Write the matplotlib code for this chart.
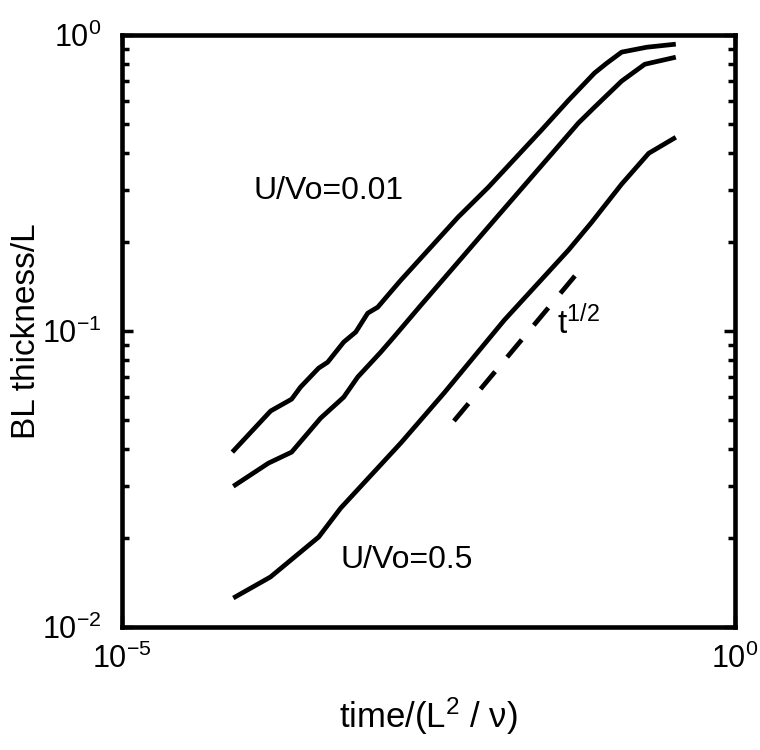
import matplotlib
matplotlib.use("Agg")
import matplotlib.pyplot as plt
from matplotlib.ticker import LogLocator, NullLocator, LogFormatterSciNotation, NullFormatter

plt.rcParams['font.family'] = ['Liberation Sans', 'DejaVu Sans']
plt.rcParams['mathtext.default'] = 'regular'

# ---- data ----
t_001 = [7.94e-5, 1.63e-4, 2.42e-4, 2.86e-4, 4.02e-4, 4.76e-4, 6.43e-4, 8.07e-4,
         1.01e-3, 1.22e-3, 1.48e-3, 1.88e-3, 5.51e-3, 9.70e-3, 0.0264, 0.0439,
         0.0714, 0.0897, 0.119, 0.1905, 0.329]
d_001 = [0.0390, 0.0537, 0.0589, 0.0647, 0.0750, 0.0785, 0.0918, 0.0993,
         0.115, 0.1205, 0.1324, 0.1486, 0.2427, 0.306, 0.478, 0.603,
         0.745, 0.804, 0.877, 0.911, 0.933]

t_mid = [8.09e-5, 1.567e-4, 2.42e-4, 4.17e-4, 6.43e-4, 8.38e-4, 1.29e-3, 1.65e-3,
         2.75e-3, 0.01086, 0.0528, 0.0714, 0.119, 0.1837, 0.329]
d_mid = [0.0299, 0.0358, 0.0390, 0.0508, 0.0598, 0.0700, 0.0849, 0.0955,
         0.1225, 0.237, 0.505, 0.571, 0.700, 0.798, 0.843]

t_05 = [8.09e-5, 1.626e-4, 4.02e-4, 6.08e-4, 1.884e-3, 4.24e-3, 0.01312, 0.0439,
        0.0676, 0.119, 0.1977, 0.329]
d_05 = [0.01253, 0.01476, 0.02014, 0.02523, 0.0419, 0.0618, 0.1089, 0.188,
        0.233, 0.314, 0.399, 0.452]

t_ref = [0.0051, 0.051]
d_ref = [0.0497, 0.156]

x_limits = [1e-5, 1e0]
y_limits = [1e-2, 1e0]
x_ticks = [1e-5, 1e0]
y_ticks = [1e-2, 1e-1, 1e0]

# ---- figure ----
fig = plt.figure(figsize=(7.6, 7.5), dpi=100)
ax = fig.add_axes([0.1605, 0.164, 0.8066, 0.789])

lw = 3.4
ax.plot(t_001, d_001, color='black', lw=lw, solid_capstyle='butt', solid_joinstyle='round')
ax.plot(t_mid, d_mid, color='black', lw=lw, solid_capstyle='butt', solid_joinstyle='round')
ax.plot(t_05, d_05, color='black', lw=lw, solid_capstyle='butt', solid_joinstyle='round')
ax.plot(t_ref, d_ref, color='black', lw=lw, dashes=(4.8, 4.0))

ax.set_xscale('log')
ax.set_yscale('log')
ax.set_xlim(x_limits)
ax.set_ylim(y_limits)

ax.xaxis.set_major_locator(plt.FixedLocator(x_ticks))
ax.xaxis.set_minor_locator(NullLocator())
ax.xaxis.set_major_formatter(LogFormatterSciNotation())
ax.yaxis.set_major_locator(plt.FixedLocator(y_ticks))
ax.yaxis.set_minor_locator(LogLocator(base=10, subs=range(2, 10)))
ax.yaxis.set_minor_formatter(NullFormatter())
ax.yaxis.set_major_formatter(LogFormatterSciNotation())

ax.tick_params(axis='both', which='major', direction='in', length=8, width=2.5,
               labelsize=22, right=True, top=True)
ax.tick_params(axis='y', which='major', pad=15)
ax.tick_params(axis='x', which='major', pad=12)
ax.tick_params(axis='y', which='minor', direction='in', length=5, width=2.5,
               right=True, left=True)

for s in ax.spines.values():
    s.set_linewidth(3.3)
    s.set_color('black')

ax.set_xlabel('time/(L$^{2}$ / ν)', fontsize=25)
ax.set_ylabel('BL thickness/L', fontsize=24)
ax.xaxis.set_label_coords(0.5, -0.115)
ax.yaxis.set_label_coords(-0.130, 0.5)

ax.text(4.85e-4, 0.297, 'U/Vo=0.01', fontsize=23, ha='center', va='center')
ax.text(2.11e-3, 0.01683, 'U/Vo=0.5', fontsize=23, ha='center', va='center')
ax.text(0.0528, 0.107, 't$^{1/2}$', fontsize=24, ha='center', va='center')

fig.savefig('out.png', dpi=100)
